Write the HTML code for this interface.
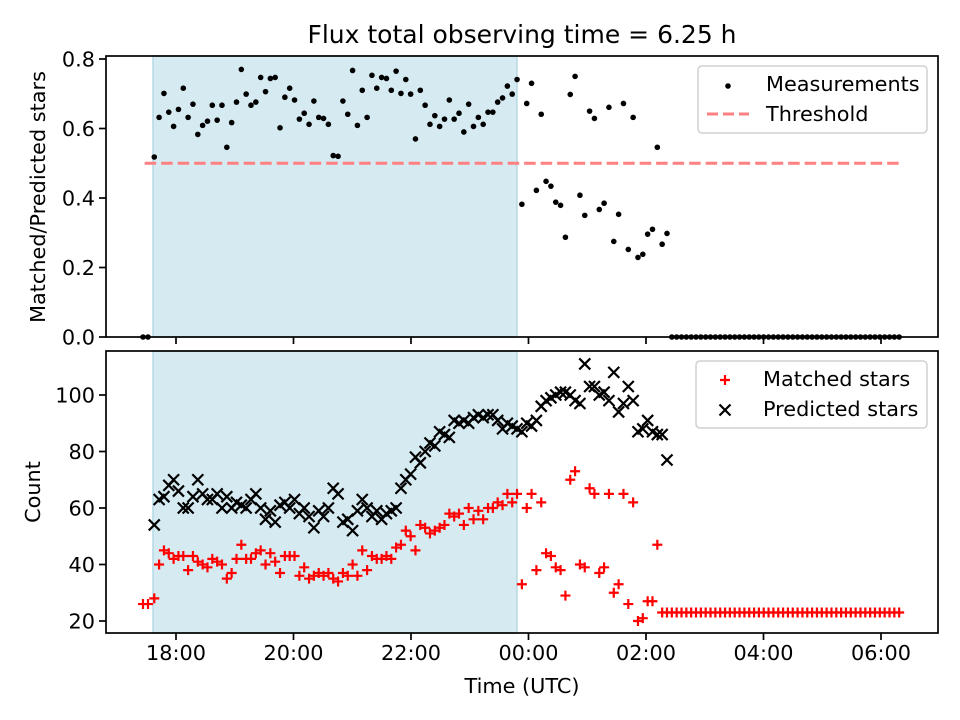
<!DOCTYPE html>
<html><head><meta charset="utf-8"><style>
body{margin:0;background:#fff;}
svg{display:block;font-family:"DejaVu Sans","Liberation Sans",sans-serif;}
</style></head><body>
<svg id="chart" width="960" height="720" viewBox="0 0 960 720" xmlns="http://www.w3.org/2000/svg">
<rect x="0" y="0" width="960" height="720" fill="#fff"/>
<text x="522" y="43" font-size="25" text-anchor="middle">Flux total observing time = 6.25 h</text>
<g id="topPanel"></g>
<g id="botPanel"></g>
</svg>
<script>
// Ratio of matched/predicted stars per measurement
const ratio=[0,0,.518,.632,.701,.647,.606,.655,.716,.632,.670,.583,.609,.621,.667,.624,.667,.546,.617,.676,.770,.699,.667,.676,.747,.706,.744,.747,.602,.690,.716,.682,.627,.644,.612,.679,.632,.629,.612,.522,.520,.679,.641,.767,.609,.710,.632,.753,.716,.747,.744,.710,.765,.701,.741,.699,.570,.710,.667,.612,.637,.606,.627,.682,.627,.644,.590,.670,.606,.632,.612,.647,.647,.676,.688,.722,.699,.741,.382,.672,.730,.422,.641,.448,.434,.388,.379,.287,.698,.750,.408,.350,.650,.629,.367,.385,.661,.275,.353,.672,.252,.632,.229,.238,.296,.310,.546,.267,.298];
// Predicted stars (null = none)
const predicted=[null,null,54,63,64,68,70,66,60,60,64,70,65,63,63,65,60,64,60,62,61,60,63,65,60,56,59,55,61,62,60,63,58,60,57,53,59,57,60,67,65,55,56,52,59,63,60,57,59,56,58,59,60,67,70,72,78,76,80,83,82,87,86,85,91,90,91,90,92,93,92,93,93,91,88,90,89,88,87,90,89,91,96,98,99,100,101,101,100,98,97,111,103,103,100,101,98,108,94,97,103,98,87,88,91,87,86,86,77];
// Matched stars
const matched=[26,26,28,40,45,44,42,43,43,38,43,41,40,39,42,41,40,35,37,42,47,42,42,44,45,40,44,41,37,43,43,43,36,39,35,36,37,36,37,35,34,37,36,40,36,45,38,43,42,42,43,42,46,47,52,50,45,54,53,51,52,53,54,58,57,58,54,60,56,59,56,60,60,62,61,65,62,65,33,60,65,38,62,44,43,39,38,29,70,73,40,39,67,65,37,39,65,30,33,65,26,62,20,21,27,27,47,23,23];
const nTotal=157;
const startMin=-22.2, stepMin=4.94;
const earlyMin=[-33.7,-28.6];
const xTicks=[0,120,240,360,480,600,720];
const xTickLabels=["18:00","20:00","22:00","00:00","02:00","04:00","06:00"];
const topTicks=[0,0.2,0.4,0.6,0.8];
const botTicks=[20,40,60,80,100];
const shadeSpan=[-23.5,348.2];
const threshold=0.5, thresholdSpan=[-32,740];

const NS="http://www.w3.org/2000/svg";
const L=106,R=938,T1=56,B1=337,T2=351,B2=633;
function X(t){return 176+t*58.75/60;}
function Y1(v){return 337-v*347.5;}
function Y2(v){return 621-(v-20)*2.825;}
function el(tag,at,parent){const e=document.createElementNS(NS,tag);for(const k in at)e.setAttribute(k,at[k]);parent.appendChild(e);return e;}
function timeOf(i){return i<2?earlyMin[i]:startMin+(i-2)*stepMin;}
const R_=i=>i<ratio.length?ratio[i]:0;
const M_=i=>i<matched.length?matched[i]:23;
const P_=i=>i<predicted.length?predicted[i]:null;

const gTop=document.getElementById('topPanel'),gBot=document.getElementById('botPanel');
[[gTop,T1,B1],[gBot,T2,B2]].forEach(([g,t,b],k)=>{
 const s=el('rect',{x:X(shadeSpan[0]),y:t,width:X(shadeSpan[1])-X(shadeSpan[0]),height:b-t,fill:'#d5eaf1',stroke:'#b5d9e4','stroke-width':1.5},g);
 
 
});
const th=el('line',{x1:X(thresholdSpan[0]),x2:X(thresholdSpan[1]),y1:Y1(threshold),y2:Y1(threshold),stroke:'#ff8080','stroke-width':3,'stroke-dasharray':'11.5 5'},gTop);


for(let i=0;i<nTotal;i++){
 const c=el('circle',{cx:X(timeOf(i)),cy:Y1(R_(i)),r:2.8,fill:'#000'},gTop);
 
 
}
for(let i=0;i<nTotal;i++){
 const p=P_(i); if(p==null) continue;
 const x=X(timeOf(i)),y=Y2(p),d=5.5;
 const g=el('path',{d:`M${x-d},${y-d}L${x+d},${y+d}M${x-d},${y+d}L${x+d},${y-d}`,stroke:'#000','stroke-width':2.2},gBot);
 
 
}
for(let i=0;i<nTotal;i++){
 const x=X(timeOf(i)),y=Y2(M_(i)),d=5;
 const g=el('path',{d:`M${x-d},${y}L${x+d},${y}M${x},${y-d}L${x},${y+d}`,stroke:'#ff0000','stroke-width':2.2},gBot);
 
 
}
[[gTop,T1,B1],[gBot,T2,B2]].forEach(([g,t,b],k)=>{
 const f=el('rect',{x:L,y:t,width:R-L,height:b-t,fill:'none',stroke:'#000','stroke-width':1.7},g);
 
 
 xTicks.forEach((tv,j)=>{
  const tk=el('line',{x1:X(tv),x2:X(tv),y1:b,y2:b+7,stroke:'#000','stroke-width':1.7},g);
  
  
  if(k){const tl=el('text',{x:X(tv),y:b+27,'font-size':20.8,'text-anchor':'middle'},g);tl.textContent=xTickLabels[j];
   
   }
 });
});
topTicks.forEach(v=>{
 const tk=el('line',{x1:L-7,x2:L,y1:Y1(v),y2:Y1(v),stroke:'#000','stroke-width':1.7},gTop);
 
 
 const tl=el('text',{x:L-11,y:Y1(v)+7.5,'font-size':20.8,'text-anchor':'end'},gTop);tl.textContent=v.toFixed(1);
 
 
});
botTicks.forEach(v=>{
 const tk=el('line',{x1:L-7,x2:L,y1:Y2(v),y2:Y2(v),stroke:'#000','stroke-width':1.7},gBot);
 
 
 const tl=el('text',{x:L-11,y:Y2(v)+7.5,'font-size':20.8,'text-anchor':'end'},gBot);tl.textContent=v;
 
 
});
</script>
<svg style="position:absolute;left:0;top:0" width="960" height="720">
<g font-family="DejaVu Sans, Liberation Sans, sans-serif" font-size="20.8">
<text x="522" y="693" text-anchor="middle">Time (UTC)</text>
<text transform="translate(45,197) rotate(-90)" text-anchor="middle">Matched/Predicted stars</text>
<text transform="translate(40,492) rotate(-90)" text-anchor="middle">Count</text>
<g>
<rect x="698" y="66" width="229" height="67" rx="4" fill="#fff" fill-opacity="0.8" stroke="#d0d0d0" stroke-width="1.5"/>
<circle cx="728" cy="86" r="2.8" fill="#000"/>
<text x="766" y="91">Measurements</text>
<line x1="707" x2="749" y1="114" y2="114" stroke="#ff8080" stroke-width="3" stroke-dasharray="11 5"/>
<text x="766" y="121">Threshold</text>
</g>
<g>
<rect x="696" y="361" width="231" height="67" rx="4" fill="#fff" fill-opacity="0.8" stroke="#d0d0d0" stroke-width="1.5"/>
<path d="M720,380L730,380M725,375L725,385" stroke="#ff0000" stroke-width="2.2"/>
<text x="763" y="386">Matched stars</text>
<path d="M719.5,404.5L730.5,415.5M719.5,415.5L730.5,404.5" stroke="#000" stroke-width="2.2"/>
<text x="763" y="416">Predicted stars</text>
</g>
</g>
</svg>
</body></html>
